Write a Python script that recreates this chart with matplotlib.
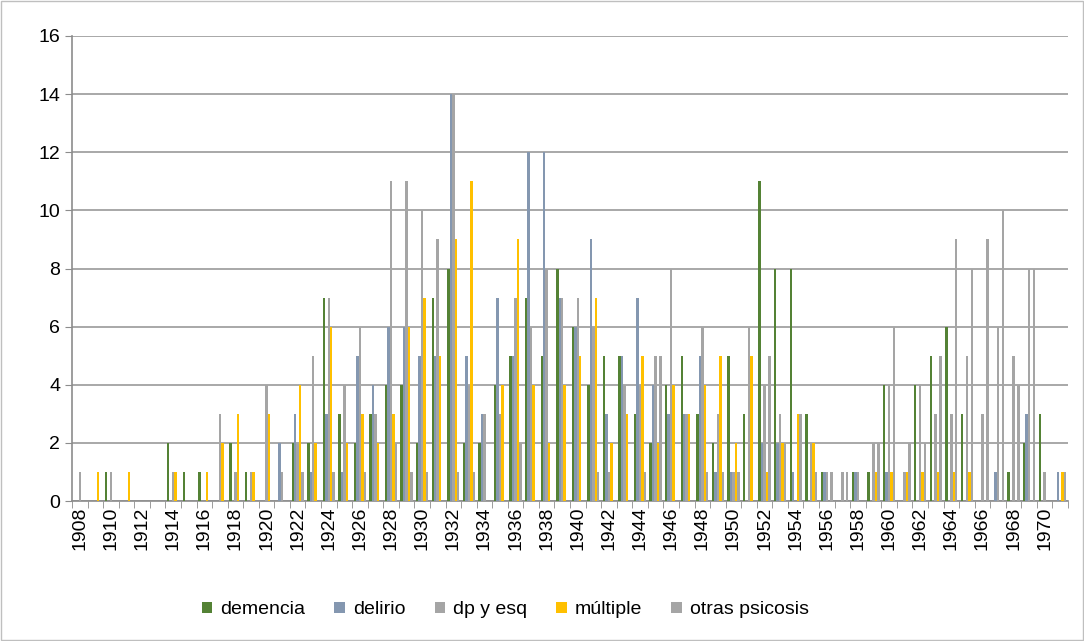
import numpy as np
import matplotlib.pyplot as plt

years = list(range(1908, 1972))
demencia = [0, 0, 1, 0, 0, 0, 2, 1, 1, 0, 2, 1, 0, 0, 2, 2, 7, 3, 2, 3,
            4, 4, 2, 7, 8, 2, 2, 4, 5, 7, 5, 8, 6, 4, 5, 5, 3, 2, 4, 5,
            3, 2, 5, 3, 11, 8, 8, 3, 1, 0, 1, 1, 4, 0, 4, 5, 6, 3, 0, 0,
            1, 2, 3, 0]
delirio = [0, 0, 0, 0, 0, 0, 0, 0, 0, 0, 0, 0, 0, 2, 3, 1, 3, 1, 5, 4,
           6, 6, 5, 5, 14, 5, 3, 7, 5, 12, 12, 7, 6, 9, 3, 5, 7, 4, 3, 3,
           5, 1, 1, 0, 2, 2, 1, 0, 1, 0, 1, 0, 1, 0, 0, 0, 0, 0, 0, 1,
           0, 3, 0, 1]
dp_esq = [1, 0, 1, 0, 0, 0, 1, 0, 0, 3, 1, 1, 4, 1, 2, 5, 7, 4, 6, 3,
          11, 11, 10, 9, 14, 4, 3, 3, 7, 6, 8, 7, 7, 6, 1, 4, 4, 5, 8, 3,
          6, 3, 1, 6, 4, 3, 0, 2, 1, 1, 1, 2, 4, 1, 4, 3, 3, 5, 3, 6,
          5, 8, 1, 0]
multiple = [0, 1, 0, 1, 0, 0, 1, 0, 1, 2, 3, 1, 3, 0, 4, 2, 6, 2, 3, 2,
            3, 6, 7, 5, 9, 11, 0, 4, 9, 4, 2, 4, 5, 7, 2, 3, 5, 2, 4, 3,
            4, 5, 2, 5, 1, 2, 3, 2, 0, 0, 0, 1, 1, 1, 1, 1, 1, 1, 0, 0,
            0, 0, 0, 1]
otras = [0, 0, 0, 0, 0, 0, 0, 0, 0, 0, 0, 0, 0, 0, 1, 0, 1, 0, 1, 0,
         2, 1, 1, 0, 1, 1, 0, 0, 2, 0, 0, 0, 0, 1, 0, 0, 1, 5, 0, 0,
         1, 1, 1, 0, 5, 2, 3, 1, 1, 1, 0, 2, 6, 2, 2, 5, 9, 8, 9, 10,
         4, 8, 0, 1]

series = [("demencia", demencia, "#548235"),
          ("delirio", delirio, "#8497B0"),
          ("dp y esq", dp_esq, "#A5A5A5"),
          ("múltiple", multiple, "#FFC000"),
          ("otras psicosis", otras, "#A5A5A5")]

plt.rcParams['font.family'] = ['Liberation Sans', 'DejaVu Sans']
fig = plt.figure(figsize=(10.84, 6.41), dpi=100)
ax = fig.add_axes([72/1084, 1-501/641, (1068-72)/1084, (501-36)/641])

x = np.arange(len(years))
w = 0.157
for k, (name, vals, col) in enumerate(series):
    ax.bar(x + (k-2)*w, vals, width=w, color=col, label=name, zorder=3)

ax.set_xlim(-0.5, len(years)-0.5)
ax.set_ylim(0, 16)
ax.set_yticks(range(0, 17, 2))
ax.yaxis.grid(True, color='#9a9a9a', linewidth=1.2, zorder=0)
ax.tick_params(axis='y', length=5, color='#8c8c8c', labelsize=14)

ax.set_xticks(x[::2])
ax.set_xticklabels([str(y) for y in years[::2]], rotation=90, fontsize=14)
ax.tick_params(axis='x', which='major', length=0, pad=4)
ax.set_xticks(np.arange(-0.5, len(years), 1), minor=True)
ax.tick_params(axis='x', which='minor', length=5, color='#8c8c8c')

for s in ['top', 'right']:
    ax.spines[s].set_visible(False)
for s in ['left', 'bottom']:
    ax.spines[s].set_color('#8c8c8c')
    ax.spines[s].set_linewidth(1.2)

ax.legend(loc='upper center', bbox_to_anchor=(0.435, -0.178), ncol=5,
          frameon=False, fontsize=14, handlelength=0.55, handleheight=0.55,
          columnspacing=1.5, handletextpad=0.4)

fig.patches.append(plt.Rectangle((0.001, 0.001), 0.998, 0.998, transform=fig.transFigure,
                                 fill=False, edgecolor='#bfbfbf', linewidth=1))
fig.savefig('out.png', dpi=100)
